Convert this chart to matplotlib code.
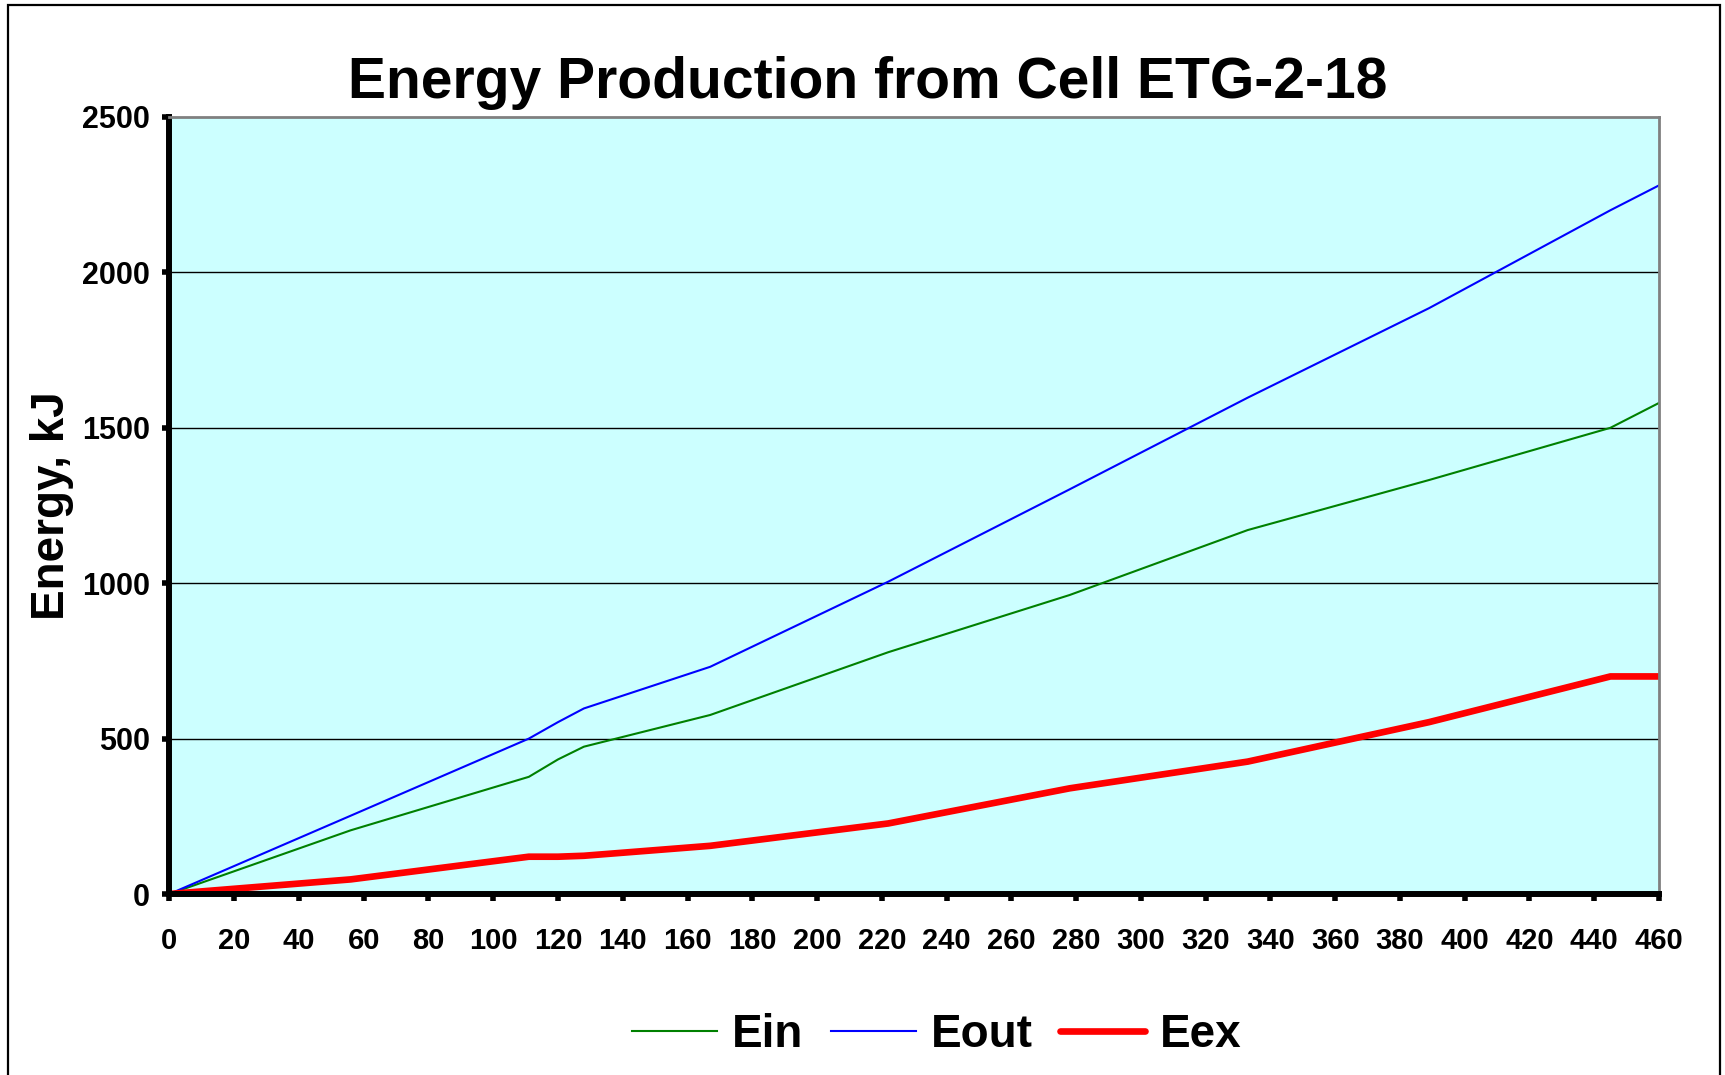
import matplotlib
matplotlib.use('Agg')
import matplotlib.pyplot as plt
from matplotlib.patches import Rectangle

# time axis and the three energy series (kJ)
t = [0, 56, 111, 120, 128, 167, 222, 278, 333, 389, 445, 460]
e_in = [0, 205, 377, 433, 474, 576, 778, 962, 1171, 1332, 1500, 1580]
e_out = [0, 252, 500, 553, 597, 731, 1005, 1302, 1597, 1885, 2200, 2280]
e_ex = [0, 47, 120, 120, 123, 155, 227, 340, 426, 553, 700, 700]

x_ticks = list(range(0, 461, 20))
y_ticks = [0, 500, 1000, 1500, 2000, 2500]

plt.rcParams['font.family'] = ['Liberation Sans', 'DejaVu Sans']
plt.rcParams['font.weight'] = 'bold'

fig = plt.figure(figsize=(17.25, 10.75), dpi=100)
ax = fig.add_axes([169.4 / 1725, 1 - 894 / 1075, (1659 - 169.4) / 1725, (894 - 117) / 1075])
ax.set_facecolor('#CCFFFF')

ax.plot(t, e_in, color='#008000', lw=1.5, label='Ein')
ax.plot(t, e_out, color='#0000FF', lw=1.5, label='Eout')
ax.plot(t, e_ex, color='#FF0000', lw=4.8, label='Eex', solid_capstyle='round')

ax.set_xlim(0, 460)
ax.set_ylim(0, 2500)
ax.set_xticks(x_ticks)
ax.set_yticks(y_ticks)
ax.tick_params(axis='both', width=4, length=5, direction='out')
ax.tick_params(axis='x', pad=19, labelsize=21)
ax.tick_params(axis='y', pad=9, labelsize=22)
for lab in ax.get_xticklabels() + ax.get_yticklabels():
    lab.set_fontweight('bold')

for y in y_ticks[1:-1]:
    ax.axhline(y, color='black', lw=1, zorder=1)

ax.spines['left'].set_linewidth(4.3)
ax.spines['bottom'].set_linewidth(4.3)
ax.spines['top'].set_color('#808080')
ax.spines['right'].set_color('#808080')
ax.spines['top'].set_linewidth(2)
ax.spines['right'].set_linewidth(2)

ax.set_ylabel('Energy, kJ', fontsize=33, fontweight='bold')
ax.yaxis.set_label_coords(-0.064, 0.5)

fig.text(868 / 1725, 1 - 83 / 1075, 'Energy Production from Cell ETG-2-18',
         fontsize=41, fontweight='bold', ha='center', va='center')

leg = fig.legend(loc='center', bbox_to_anchor=(937 / 1725, 1 - 1035 / 1075), ncol=3,
                 frameon=False, handlelength=1.85, handletextpad=0.33,
                 columnspacing=0.6, prop={'weight': 'bold', 'size': 33})

fig.add_artist(Rectangle((8 / 1725, -0.02), (1720 - 8) / 1725, 1.02 - 5 / 1075,
                         transform=fig.transFigure, fill=False, ec='black', lw=1.6))

fig.savefig('out.png', dpi=100)
